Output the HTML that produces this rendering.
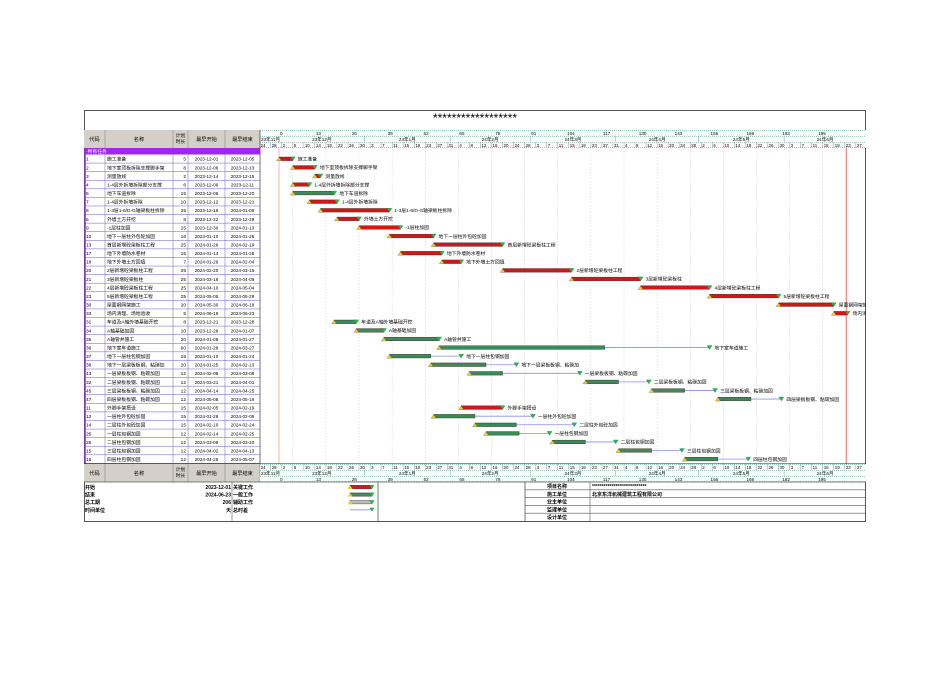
<!DOCTYPE html>
<html><head><meta charset="utf-8">
<style>
html,body{margin:0;padding:0;background:#fff;}
svg text{font-family:"Liberation Sans","Noto Sans CJK SC",sans-serif;}
</style></head>
<body>
<svg id="s" width="950" height="672" xmlns="http://www.w3.org/2000/svg"></svg>
<script>
const S=document.getElementById('s');
let h='<defs><clipPath id="gc"><rect x="260" y="148" width="605.5" height="316"/></clipPath></defs>';
const X0=279, PD=2.76;
const dx=d=>X0+d*PD;
function t(x,y,s,o){o=o||{};h+=`<text x="${x}" y="${y}" font-size="${o.fs||5.2}" fill="${o.c||'#000'}" text-anchor="${o.a||'start'}" ${o.b?'font-weight="bold"':''}>${s}</text>`;}
function r(x,y,w,hh,f,st,sw){h+=`<rect x="${x}" y="${y}" width="${w}" height="${hh}" fill="${f||'none'}" ${st?`stroke="${st}" stroke-width="${sw||0.6}"`:''}/>`;}
function l(x1,y1,x2,y2,c,w,da){h+=`<line x1="${x1}" y1="${y1}" x2="${x2}" y2="${y2}" stroke="${c}" stroke-width="${w||0.6}" ${da?`stroke-dasharray="${da}"`:''}/>`;}
r(84.5,110.5,781,411,'#fff','#555',1);
t(475,122,'******************',{fs:12,a:'middle'});
const cols=[84,105,173,188,225,260];
r(84,130,176,18,'#d4d0c8');
const hd=['代码','名称','','最早开始','最早结束'];
for(let i=0;i<5;i++){ if(hd[i]) t((cols[i]+cols[i+1])/2,141,hd[i],{a:'middle'}); l(cols[i+1],130,cols[i+1],148,'#888',0.6);}
t(180.5,137,'计划',{a:'middle',fs:4.8});t(180.5,143,'时长',{a:'middle',fs:4.8});
function ganttHeader(y0,rev){
 r(260,y0,606,18,'#fff');
 const ys=rev?[y0+12,y0+6,y0]:[y0,y0+6,y0+12];
 for(let d=0;d<=206;d+=13){const dd=d>195?206:d;t(dx(dd)+1,ys[0]+5,dd,{fs:4.6});}
 const months=[[-7,'23年11月'],[0,'23年12月'],[31,'24年1月'],[62,'24年2月'],[91,'24年3月'],[122,'24年4月'],[152,'24年5月'],[183,'24年6月']];
 months.forEach((m,i)=>{const xs=Math.max(260,dx(m[0]));const xe=i<7?dx(months[i+1][0]):866;l(xs,ys[1],xs,ys[1]+6,'#6a9',0.5);t(i==0?261:(xs+xe)/2,ys[1]+5,m[1],{fs:4.6,a:i==0?'start':'middle'});});
 const dn=[24,28,2,6,10,14,18,22,26,30,3,7,11,15,19,23,27,31,4,8,12,16,20,24,28,3,7,11,15,19,23,27,31,4,8,12,16,20,24,28,2,6,10,14,18,22,26,30,3,7,11,15,19,23,27];
 for(let i=0;i<dn.length;i++){const x=dx(-7+i*4);if(x>866)break;l(x,ys[2],x,ys[2]+6,'#6a9',0.5);t(x+1,ys[2]+5,dn[i],{fs:4.4});}
 for(let k=0;k<3;k++){l(260,y0+k*6+0.3,866,y0+k*6+0.3,'#6a9',0.6,'1,1');}
 l(260,y0+17.7,866,y0+17.7,'#6a9',0.6,'1,1');
 for(let d=0;d<=206;d+=1){const x=dx(d);if(x>866)break;l(x,ys[0]+4.5,x,ys[0]+6,'#6a9',0.3);}
}
ganttHeader(130,false);
r(84,148,176,6.5,'#9a28f0');
t(86,153.2,'-所有任务',{fs:4.8,c:'#fff'});
const rows=[
['1','施工准备',5,'2023-12-01','2023-12-05',0,4,'r'],
['2','地下室顶板拆除支撑脚手架',8,'2023-12-06','2023-12-13',5,12,'r'],
['3','测量放线',2,'2023-12-14','2023-12-15',13,14,'r'],
['4','1-4层外拆墙拆除部分支撑',6,'2023-12-06','2023-12-11',5,10,'r'],
['5','地下车道拆除',15,'2023-12-06','2023-12-20',5,19,'g'],
['7','1-4层外拆墙拆除',10,'2023-12-12','2023-12-21',11,20,'r'],
['8','1-3层1-6/D-G轴梁板柱拆除',25,'2023-12-16','2024-01-09',15,39,'r'],
['6','外墙土方开挖',8,'2023-12-22','2023-12-29',21,28,'r'],
['9','-1层柱加固',15,'2023-12-30','2024-01-13',29,43,'r'],
['10','地下一层柱外包砼加固',16,'2024-01-10','2024-01-25',40,55,'r'],
['13','首层新增砼梁板柱工程',25,'2024-01-26','2024-02-19',56,80,'r'],
['17','地下外墙防水卷材',15,'2024-01-14','2024-01-28',44,58,'r'],
['18','地下外墙土方回填',7,'2024-01-29','2024-02-04',59,65,'r'],
['20','2层新增砼梁板柱工程',25,'2024-02-20','2024-03-15',81,105,'r'],
['21','3层新增砼梁板柱',25,'2024-03-16','2024-04-09',106,130,'r'],
['22','4层新增砼梁板柱工程',25,'2024-04-10','2024-05-04',131,155,'r'],
['23','5层新增砼梁板柱工程',25,'2024-05-05','2024-05-29',156,180,'r'],
['30','屋面钢网架施工',20,'2024-05-30','2024-06-18',181,200,'r'],
['33','场内清理、场地验收',5,'2024-06-19','2024-06-23',201,205,'r'],
['31','车道及A轴外墙基础开挖',8,'2023-12-21','2023-12-28',20,27,'g'],
['34','A轴基础加固',10,'2023-12-29','2024-01-07',28,37,'g'],
['35','A轴管井施工',20,'2024-01-08','2024-01-27',38,57,'g'],
['36','地下室车道施工',60,'2024-01-28','2024-03-27',58,117,'g',155],
['37','地下一层柱包钢加固',15,'2024-01-10','2024-01-24',40,54,'g',65],
['38','地下一层梁板板钢、粘碳加',20,'2024-01-25','2024-02-13',55,74,'g',85],
['43','一层梁板板钢、粘碳加固',12,'2024-02-08','2024-03-08',69,80,'g',108],
['32','二层梁板板钢、粘碳加固',12,'2024-03-21','2024-04-01',111,122,'g',133],
['45','三层梁板板钢、粘碳加固',12,'2024-04-14','2024-04-25',135,146,'g',157],
['47','四层梁板板钢、粘碳加固',12,'2024-05-08','2024-05-19',159,170,'g',181],
['11','外脚手架搭设',15,'2024-02-05','2024-02-19',66,80,'r'],
['12','一层柱外包砼加固',15,'2024-01-26','2024-02-09',56,70,'g',91],
['14','二层柱外包砼加固',15,'2024-02-10','2024-02-24',71,85,'g',106],
['25','一层柱包钢加固',12,'2024-02-14','2024-02-25',75,86,'g',97],
['26','二层柱包钢加固',12,'2024-03-09','2024-03-20',99,110,'g',121],
['15','三层柱包钢加固',12,'2024-04-02','2024-04-13',123,134,'g',145],
['16','四层柱包钢加固',12,'2024-04-26','2024-05-07',147,158,'g',169]];
const RY=154.5, RH=8.58;
for(let d=5;d<=206;d+=12){l(dx(d),148,dx(d),464,'#ccc',0.5,'1.5,1.5');}
l(dx(0),148,dx(0),464,'#f4a0a0',0.8);
l(dx(205.5),148,dx(205.5),464,'#e04040',0.8);
let g='';
rows.forEach((rw,i)=>{
 const y=RY+i*RH;
 l(84,y+RH,260,y+RH,'#6a5acd',0.5);
 t(86,y+6.2,rw[0],{fs:4.8});
 t(107,y+6.2,rw[1],{fs:4.8});
 t(186,y+6.2,rw[2],{fs:4.8,a:'end'});
 t(206.5,y+6.2,rw[3],{fs:4.6,a:'middle'});
 t(242.5,y+6.2,rw[4],{fs:4.6,a:'middle'});
});
h+='<g clip-path="url(#gc)">';
rows.forEach((rw,i)=>{
 const y=RY+i*RH;
 const x1=dx(rw[5]), x2=dx(rw[6]+1), cy=y+4.3;
 let ex=x2;
 if(rw[8]){ex=dx(rw[8]+1);l(x2,cy,ex,cy,'#8c8cf0',0.8);}
 const col=rw[7]=='r'?'#d01818':'#3a8a5a';
 r(x1,cy-1.8,x2-x1,3.6,col,'#402020',0.4);
 h+=`<polygon points="${x1-2.5},${cy+2} ${x1+2.5},${cy+2} ${x1},${cy-1.5}" fill="#f0d020" stroke="#555" stroke-width="0.3"/>`;
 h+=`<polygon points="${ex-2.5},${cy-2} ${ex+2.5},${cy-2} ${ex},${cy+2}" fill="#30b040" stroke="#286" stroke-width="0.3"/>`;
 t(ex+5,cy+1.8,rw[1],{fs:4.8});
});
h+='</g>';
for(let i=1;i<5;i++) l(cols[i],154,cols[i],464,'#6a5acd',0.5);
l(85,148,85,464,'#8a2be2',1.5);
l(260,130,260,482,'#555',0.8);
l(84,464,866,464,'#222',1);
r(84,464,176,18,'#d4d0c8');
for(let i=0;i<5;i++){ if(hd[i]) t((cols[i]+cols[i+1])/2,475,hd[i],{a:'middle'}); l(cols[i+1],464,cols[i+1],482,'#888',0.6);}
t(180.5,471,'计划',{a:'middle',fs:4.8});t(180.5,477,'时长',{a:'middle',fs:4.8});
ganttHeader(464,true);
l(84,482,866,482,'#555',0.8);
const fl=[['开始','2023-12-01','关键工作','r'],['结束','2024-06-23','一般工作','g'],['总工期','206','辅助工作','a'],['时间单位','天','总时差','f']];
fl.forEach((f,i)=>{const y=489+i*7.6;t(85,y,f[0],{fs:5,b:1});t(231,y,f[1],{fs:5,a:'end',b:1});t(233,y,f[2],{fs:5,b:1});
 const cy=y-2;
 if(f[3]=='f'){l(350,cy,372,cy,'#8c8cf0',0.8);}
 else{const c=f[3]=='r'?'#d01818':f[3]=='g'?'#3a8a5a':'#bbb';r(350,cy-1.7,22,3.4,c,'#333',0.4);
  h+=`<polygon points="${347.5},${cy+2} ${352.5},${cy+2} ${350},${cy-1.5}" fill="#f0d020"/>`;}
 h+=`<polygon points="${369.5},${cy-2} ${374.5},${cy-2} ${372},${cy+2}" fill="#30b040"/>`;
});
l(232,482,232,521,'#555',0.6);l(378,482,378,521,'#555',0.8);l(525,482,525,521,'#555',0.8);l(590,482,590,521,'#555',0.6);
const rl=['项目名称','施工单位','业主单位','监理单位','设计单位'];
rl.forEach((s,i)=>{const y=482+i*7.8;if(i>0)l(525,y,866,y,'#555',0.6);t(557,y+6,s,{fs:5,a:'middle',b:1});});
t(592,488,'****************************',{fs:5,b:1});
t(592,495.8,'北京东洋机械建筑工程有限公司',{fs:5,b:1});
S.innerHTML=h;
</script>
</body></html>
